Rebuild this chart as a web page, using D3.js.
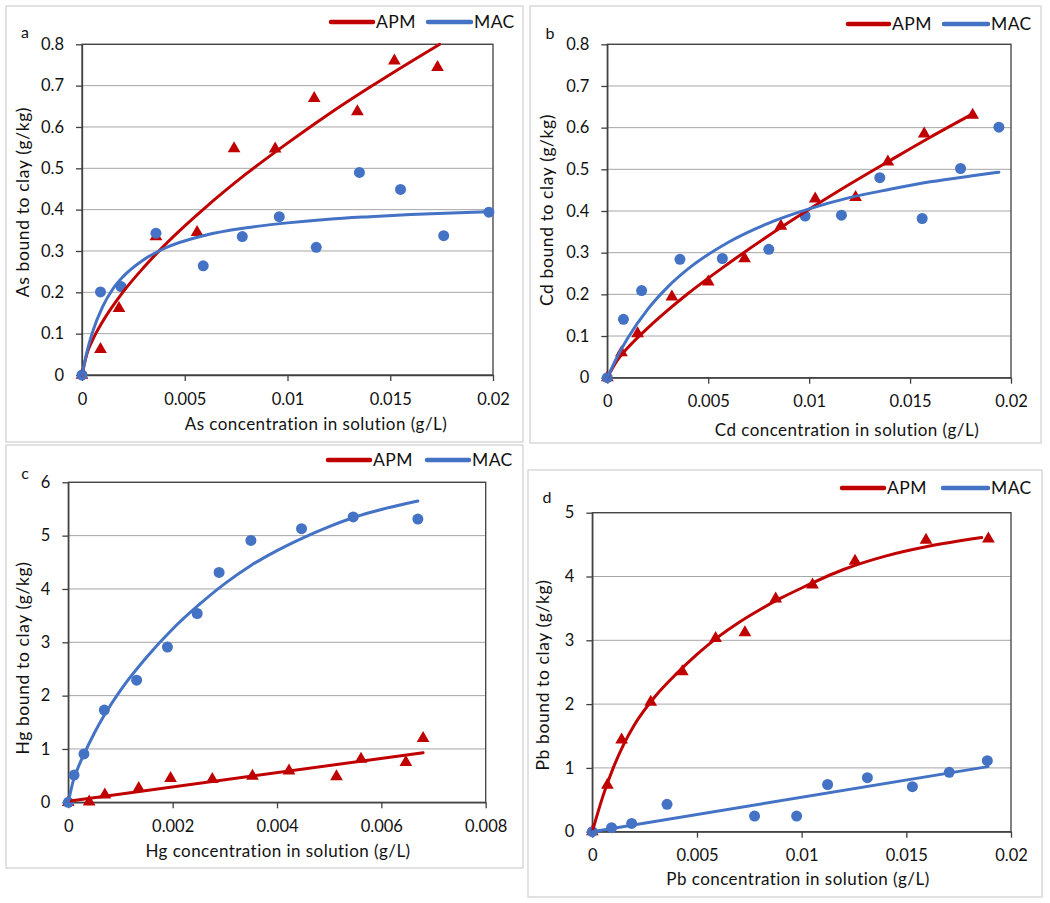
<!DOCTYPE html>
<html>
<head>
<meta charset="utf-8">
<script src="https://cdn.jsdelivr.net/npm/d3@7"></script>
<style>
    body { margin: 0; background: #fff; }
    svg text { font-family: Lato, "Open Sans", sans-serif; fill: #111; }
</style>
</head>
<body>
<script>
// ---- data ----
var seriesNames = ["APM", "MAC"];
var panelLetters = ["a", "b", "c", "d"];
var xTitles = ["As concentration in solution (g/L)", "Cd concentration in solution (g/L)",
    "Hg concentration in solution (g/L)", "Pb concentration in solution (g/L)"];
var yTitles = ["As bound to clay (g/kg)", "Cd bound to clay (g/kg)",
    "Hg bound to clay (g/kg)", "Pb bound to clay (g/kg)"];

var xTicks02 = [0, 0.005, 0.01, 0.015, 0.02];
var xLabels02 = ["0", "0.005", "0.01", "0.015", "0.02"];
var xTicksHg = [0, 0.002, 0.004, 0.006, 0.008];
var xLabelsHg = ["0", "0.002", "0.004", "0.006", "0.008"];
var yTicks08 = [0, 0.1, 0.2, 0.3, 0.4, 0.5, 0.6, 0.7, 0.8];
var yLabels08 = ["0", "0.1", "0.2", "0.3", "0.4", "0.5", "0.6", "0.7", "0.8"];
var yTicksHg = [0, 1, 2, 3, 4, 5, 6];
var yLabelsHg = ["0", "1", "2", "3", "4", "5", "6"];
var yTicksPb = [0, 1, 2, 3, 4, 5];
var yLabelsPb = ["0", "1", "2", "3", "4", "5"];

// As
var asApmPts = [[0,0],[0.0009,0.062],[0.0018,0.161],[0.0036,0.335],[0.0056,0.345],[0.0074,0.548],[0.0094,0.547],[0.0113,0.669],[0.0134,0.637],[0.0152,0.760],[0.0173,0.744]];
var asMacPts = [[0,0],[0.0009,0.201],[0.0019,0.214],[0.0036,0.343],[0.0059,0.264],[0.0078,0.335],[0.0096,0.383],[0.0114,0.309],[0.0135,0.490],[0.0155,0.449],[0.0176,0.337],[0.0198,0.394]];
var asApmFit = [[0,0],[0.00025,0.053],[0.0005,0.083],[0.001,0.129],[0.002,0.201],[0.003,0.26],[0.004,0.313],[0.006,0.405],[0.008,0.487],[0.01,0.561],[0.012,0.631],[0.014,0.696],[0.016,0.758],[0.0174,0.8]];
var asMacFit = [[0,0],[0.00025,0.058],[0.0005,0.102],[0.001,0.165],[0.0015,0.208],[0.002,0.238],[0.003,0.279],[0.004,0.306],[0.006,0.338],[0.008,0.356],[0.01,0.368],[0.012,0.377],[0.014,0.383],[0.016,0.388],[0.018,0.392],[0.0198,0.395]];

// Cd
var cdApmPts = [[0,0],[0.0007,0.06],[0.0015,0.106],[0.0032,0.194],[0.005,0.23],[0.0068,0.286],[0.0086,0.364],[0.0103,0.429],[0.0123,0.433],[0.0139,0.518],[0.0157,0.585],[0.0181,0.63]];
var cdMacPts = [[0,0],[0.0008,0.14],[0.0017,0.209],[0.0036,0.284],[0.0057,0.286],[0.008,0.308],[0.0098,0.388],[0.0116,0.39],[0.0135,0.48],[0.0156,0.382],[0.0175,0.502],[0.0194,0.601]];
var cdApmFit = [[0,0],[0.0005,0.042],[0.001,0.071],[0.002,0.119],[0.003,0.162],[0.004,0.202],[0.006,0.274],[0.008,0.341],[0.01,0.404],[0.012,0.464],[0.014,0.521],[0.016,0.577],[0.0181,0.633]];
var cdMacFit = [[0,0],[0.0005,0.051],[0.001,0.094],[0.002,0.164],[0.003,0.218],[0.004,0.261],[0.006,0.325],[0.008,0.371],[0.01,0.405],[0.012,0.432],[0.014,0.452],[0.016,0.47],[0.018,0.484],[0.0194,0.493]];

// Hg
var hgApmPts = [[0,0],[0.0004,0.01],[0.0007,0.14],[0.00135,0.26],[0.00196,0.45],[0.00276,0.43],[0.00353,0.49],[0.00423,0.59],[0.00514,0.48],[0.00561,0.81],[0.00647,0.75],[0.0068,1.2]];
var hgMacPts = [[0,0],[0.00011,0.51],[0.0003,0.906],[0.00069,1.73],[0.00131,2.29],[0.0019,2.91],[0.00247,3.54],[0.00289,4.31],[0.0035,4.91],[0.00447,5.13],[0.00546,5.35],[0.0067,5.31]];
var hgApmFit = [[0,0.02],[0.0068,0.93]];
var hgMacFit = [[0,0],[0.0001,0.42],[0.0002,0.68],[0.0003,0.9],[0.0005,1.3],[0.0007,1.65],[0.001,2.1],[0.0015,2.72],[0.002,3.25],[0.0025,3.7],[0.003,4.1],[0.0035,4.44],[0.004,4.72],[0.0045,4.96],[0.005,5.17],[0.0055,5.35],[0.006,5.49],[0.0067,5.65]];

// Pb
var pbApmPts = [[0,0],[0.00072,0.73],[0.0014,1.44],[0.00279,2.03],[0.0043,2.51],[0.00589,3.03],[0.00729,3.12],[0.00876,3.65],[0.01052,3.87],[0.01255,4.24],[0.01594,4.57],[0.01892,4.59]];
var pbMacPts = [[0,0],[0.00092,0.063],[0.00188,0.13],[0.00357,0.43],[0.00775,0.245],[0.00976,0.245],[0.01124,0.74],[0.01314,0.846],[0.01529,0.705],[0.01705,0.93],[0.01887,1.113]];
var pbApmFit = [[0,0],[0.0005,0.55],[0.001,1.0],[0.0015,1.37],[0.002,1.67],[0.003,2.12],[0.004,2.47],[0.005,2.78],[0.006,3.05],[0.007,3.28],[0.008,3.48],[0.009,3.66],[0.01,3.82],[0.012,4.11],[0.014,4.32],[0.016,4.47],[0.0186,4.61]];
var pbMacFit = [[0,0],[0.0189,1.02]];

// ---- layout ----
var red = "#C00000", blue = "#4472C4";

var panels = [
    {frame: [6, 6, 523, 442], plot: {l: 82, r: 493, t: 44.3, b: 375},
     xMax: 0.02, xTicks: xTicks02, xLabels: xLabels02, yMax: 0.8, yTicks: yTicks08, yLabels: yLabels08,
     apmPts: asApmPts, macPts: asMacPts, apmFit: asApmFit, macFit: asMacFit,
     letter: [25, 38], legend: {y: 22, apm: [331, 373], mac: [428, 471]},
     yTitle: [23, 202], xTitle: [316, 430]},
    {frame: [530, 6, 1041, 443], plot: {l: 607.3, r: 1011, t: 44.3, b: 377.7},
     xMax: 0.02, xTicks: xTicks02, xLabels: xLabels02, yMax: 0.8, yTicks: yTicks08, yLabels: yLabels08,
     apmPts: cdApmPts, macPts: cdMacPts, apmFit: cdApmFit, macFit: cdMacFit,
     letter: [550, 39], legend: {y: 24, apm: [848, 889], mac: [944, 988]},
     yTitle: [547, 210], xTitle: [847, 436]},
    {frame: [6, 445, 523, 868], plot: {l: 68.3, r: 485.7, t: 482.3, b: 802.3},
     xMax: 0.008, xTicks: xTicksHg, xLabels: xLabelsHg, yMax: 6, yTicks: yTicksHg, yLabels: yLabelsHg,
     apmPts: hgApmPts, macPts: hgMacPts, apmFit: hgApmFit, macFit: hgMacFit,
     letter: [25, 479], legend: {y: 460, apm: [328, 370], mac: [427, 469]},
     yTitle: [23, 658], xTitle: [278, 857]},
    {frame: [528, 470, 1042, 897], plot: {l: 592.3, r: 1011, t: 512.7, b: 831.7},
     xMax: 0.02, xTicks: xTicks02, xLabels: xLabels02, yMax: 5, yTicks: yTicksPb, yLabels: yLabelsPb,
     apmPts: pbApmPts, macPts: pbMacPts, apmFit: pbApmFit, macFit: pbMacFit,
     letter: [547, 503], legend: {y: 488, apm: [842, 884], mac: [943, 988]},
     yTitle: [543, 675], xTitle: [798, 885]}
];

var svg = d3.select("body").append("svg")
    .attr("width", 1050)
    .attr("height", 903);

panels.forEach(function (p, i) {
    var g = svg.append("g");
    var pl = p.plot;

    // panel frame
    g.append("rect")
        .attr("x", p.frame[0]).attr("y", p.frame[1])
        .attr("width", p.frame[2] - p.frame[0]).attr("height", p.frame[3] - p.frame[1])
        .attr("fill", "#fff").attr("stroke", "#d9d9d9").attr("stroke-width", 1.5);

    var x = d3.scaleLinear().domain([0, p.xMax]).range([pl.l, pl.r]);
    var y = d3.scaleLinear().domain([0, p.yMax]).range([pl.b, pl.t]);

    // gridlines
    g.append("g").selectAll("line")
        .data(p.yTicks.slice(1))
        .enter().append("line")
        .attr("x1", pl.l).attr("x2", pl.r)
        .attr("y1", function (d) { return y(d); })
        .attr("y2", function (d) { return y(d); })
        .attr("stroke", "#a6a6a6").attr("stroke-width", 1);

    // plot border (top + right)
    g.append("rect")
        .attr("x", pl.l).attr("y", pl.t)
        .attr("width", pl.r - pl.l).attr("height", pl.b - pl.t)
        .attr("fill", "none").attr("stroke", "#404040").attr("stroke-width", 1.3);

    var xAxis = g.append("g")
        .attr("transform", "translate(0," + pl.b + ")")
        .call(d3.axisBottom(x).tickValues(p.xTicks).tickSize(6).tickSizeOuter(0).tickPadding(12)
            .tickFormat(function (d, k) { return p.xLabels[k]; }));
    var yAxis = g.append("g")
        .attr("transform", "translate(" + pl.l + ",0)")
        .call(d3.axisLeft(y).tickValues(p.yTicks).tickSize(6).tickSizeOuter(0).tickPadding(12)
            .tickFormat(function (d, k) { return p.yLabels[k]; }));
    [xAxis, yAxis].forEach(function (ax) {
        ax.attr("font-family", null).attr("font-size", null);
        ax.selectAll("path, line").attr("stroke", "#404040").attr("stroke-width", 1.3);
        ax.selectAll("text").style("font-size", "16.5px").attr("fill", "#111");
    });

    // markers
    g.append("g").selectAll("path")
        .data(p.apmPts)
        .enter().append("path")
        .attr("d", d3.symbol(d3.symbolTriangle, 70))
        .attr("transform", function (d) { return "translate(" + x(d[0]) + "," + y(d[1]) + ")"; })
        .attr("fill", red);
    g.append("g").selectAll("circle")
        .data(p.macPts)
        .enter().append("circle")
        .attr("cx", function (d) { return x(d[0]); })
        .attr("cy", function (d) { return y(d[1]); })
        .attr("r", 5.5)
        .attr("fill", blue);

    // fitted curves
    var line = d3.line()
        .x(function (d) { return x(d[0]); })
        .y(function (d) { return y(d[1]); })
        .curve(d3.curveMonotoneX);
    g.append("path").datum(p.apmFit)
        .attr("d", line).attr("fill", "none")
        .attr("stroke", red).attr("stroke-width", 3).attr("stroke-linecap", "round");
    g.append("path").datum(p.macFit)
        .attr("d", line).attr("fill", "none")
        .attr("stroke", blue).attr("stroke-width", 3).attr("stroke-linecap", "round");

    // legend
    [["apm", red, 0], ["mac", blue, 1]].forEach(function (s) {
        var seg = p.legend[s[0]];
        g.append("line")
            .attr("x1", seg[0]).attr("x2", seg[1])
            .attr("y1", p.legend.y).attr("y2", p.legend.y)
            .attr("stroke", s[1]).attr("stroke-width", 4.5).attr("stroke-linecap", "round");
        g.append("text")
            .attr("x", seg[1] + 3).attr("y", p.legend.y)
            .attr("dy", "0.36em")
            .style("font-size", "17.5px")
            .style("letter-spacing", "0.4px")
            .text(seriesNames[s[2]]);
    });

    // letter
    g.append("text")
        .attr("x", p.letter[0]).attr("y", p.letter[1])
        .attr("text-anchor", "middle")
        .style("font-size", "16px")
        .text(panelLetters[i]);

    // axis titles
    g.append("text")
        .attr("x", p.xTitle[0]).attr("y", p.xTitle[1])
        .attr("text-anchor", "middle")
        .style("font-size", "17px")
        .style("letter-spacing", "0.45px")
        .text(xTitles[i]);
    g.append("text")
        .attr("transform", "translate(" + p.yTitle[0] + "," + p.yTitle[1] + ") rotate(-90)")
        .attr("text-anchor", "middle")
        .attr("dy", "0.35em")
        .style("font-size", "17.5px")
        .style("letter-spacing", "0.6px")
        .text(yTitles[i]);
});
</script>
</body>
</html>
